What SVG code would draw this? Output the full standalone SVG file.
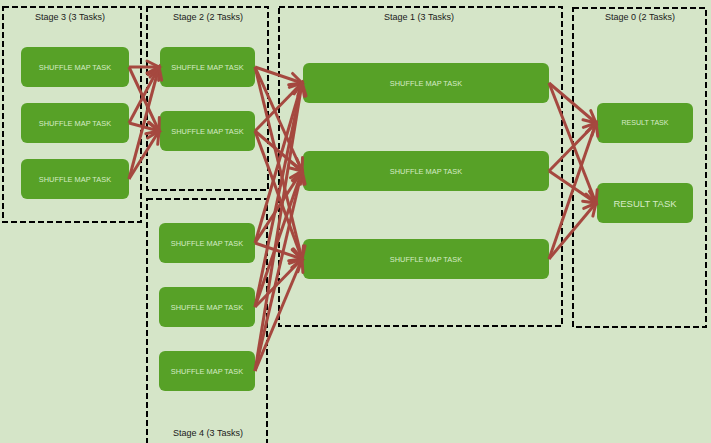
<svg xmlns="http://www.w3.org/2000/svg" width="711" height="443" viewBox="0 0 711 443">
<defs>
<style>
.bg{fill:#d5e5c8}
.stage{fill:none;stroke:#000;stroke-width:2;stroke-dasharray:6 3}
.title{font-family:"Liberation Sans",Arial,sans-serif;font-size:9px;fill:#1a1a1a;text-anchor:middle}
.node rect{fill:#57a127}
.node text{font-family:"Liberation Sans",Arial,sans-serif;font-size:7.4px;fill:#d6ebc6;text-anchor:middle;dominant-baseline:central}
.conn line{stroke:#a5483f;stroke-width:3;marker-end:url(#ah)}
</style>
<marker id="ah" markerUnits="userSpaceOnUse" viewBox="-14 -9 17 18" refX="0" refY="0" markerWidth="17" markerHeight="18" orient="auto" overflow="visible">
<path d="M-12,-6 L0,0 L-12,6" fill="none" stroke="#a5483f" stroke-width="3" stroke-linejoin="miter" stroke-linecap="round"/>
</marker>
</defs>
<rect class="bg" x="0" y="0" width="711" height="443"/>
<g id="stages">
<rect class="stage" x="3" y="7" width="138" height="215"/>
<rect class="stage" x="147" y="7" width="121" height="183"/>
<rect class="stage" x="147" y="199" width="120" height="250"/>
<rect class="stage" x="279" y="7" width="283" height="319"/>
<rect class="stage" x="573" y="8" width="133" height="319"/>
<text class="title" x="70" y="20">Stage 3 (3 Tasks)</text>
<text class="title" x="208" y="20">Stage 2 (2 Tasks)</text>
<text class="title" x="419" y="20">Stage 1 (3 Tasks)</text>
<text class="title" x="640" y="20">Stage 0 (2 Tasks)</text>
<text class="title" x="208" y="436">Stage 4 (3 Tasks)</text>
</g>
<g id="s3n1" class="node"><rect x="21" y="47" width="108" height="40" rx="6"/><text x="75" y="67">SHUFFLE MAP TASK</text></g>
<g id="s3n2" class="node"><rect x="21" y="103" width="108" height="40" rx="6"/><text x="75" y="123">SHUFFLE MAP TASK</text></g>
<g id="s3n3" class="node"><rect x="21" y="159" width="108" height="40" rx="6"/><text x="75" y="179">SHUFFLE MAP TASK</text></g>
<g id="s2n1" class="node"><rect x="160" y="47" width="95" height="40" rx="6"/><text x="207.5" y="67">SHUFFLE MAP TASK</text></g>
<g id="s2n2" class="node"><rect x="160" y="111" width="95" height="40" rx="6"/><text x="207.5" y="131">SHUFFLE MAP TASK</text></g>
<g id="s4n1" class="node"><rect x="159" y="223" width="96" height="40" rx="6"/><text x="207" y="243">SHUFFLE MAP TASK</text></g>
<g id="s4n2" class="node"><rect x="159" y="287" width="96" height="40" rx="6"/><text x="207" y="307">SHUFFLE MAP TASK</text></g>
<g id="s4n3" class="node"><rect x="159" y="351" width="96" height="40" rx="6"/><text x="207" y="371">SHUFFLE MAP TASK</text></g>
<g id="s1n1" class="node"><rect x="303" y="63" width="246" height="40" rx="6"/><text x="426" y="83">SHUFFLE MAP TASK</text></g>
<g id="s1n2" class="node"><rect x="303" y="151" width="246" height="40" rx="6"/><text x="426" y="171">SHUFFLE MAP TASK</text></g>
<g id="s1n3" class="node"><rect x="303" y="239" width="246" height="40" rx="6"/><text x="426" y="259">SHUFFLE MAP TASK</text></g>
<g id="s0n1" class="node"><rect x="597" y="103" width="96" height="40" rx="6"/><text x="645" y="123" style="font-size:7.1px">RESULT TASK</text></g>
<g id="s0n2" class="node"><rect x="597" y="183" width="96" height="40" rx="6"/><text x="645" y="203" style="font-size:9.5px">RESULT TASK</text></g>
<g id="connectors" class="conn">
<line x1="129" y1="67" x2="159" y2="67"/>
<line x1="129" y1="67" x2="159" y2="131"/>
<line x1="129" y1="123" x2="159" y2="67"/>
<line x1="129" y1="123" x2="159" y2="131"/>
<line x1="129" y1="179" x2="159" y2="67"/>
<line x1="129" y1="179" x2="159" y2="131"/>
<line x1="255" y1="67" x2="302" y2="83"/>
<line x1="255" y1="67" x2="302" y2="171"/>
<line x1="255" y1="67" x2="302" y2="259"/>
<line x1="255" y1="131" x2="302" y2="83"/>
<line x1="255" y1="131" x2="302" y2="171"/>
<line x1="255" y1="131" x2="302" y2="259"/>
<line x1="255" y1="243" x2="302" y2="83"/>
<line x1="255" y1="243" x2="302" y2="171"/>
<line x1="255" y1="243" x2="302" y2="259"/>
<line x1="255" y1="307" x2="302" y2="83"/>
<line x1="255" y1="307" x2="302" y2="171"/>
<line x1="255" y1="307" x2="302" y2="259"/>
<line x1="255" y1="371" x2="302" y2="83"/>
<line x1="255" y1="371" x2="302" y2="171"/>
<line x1="255" y1="371" x2="302" y2="259"/>
<line x1="549" y1="83" x2="596" y2="123"/>
<line x1="549" y1="83" x2="596" y2="203"/>
<line x1="549" y1="171" x2="596" y2="123"/>
<line x1="549" y1="171" x2="596" y2="203"/>
<line x1="549" y1="259" x2="596" y2="123"/>
<line x1="549" y1="259" x2="596" y2="203"/>
</g>
</svg>
